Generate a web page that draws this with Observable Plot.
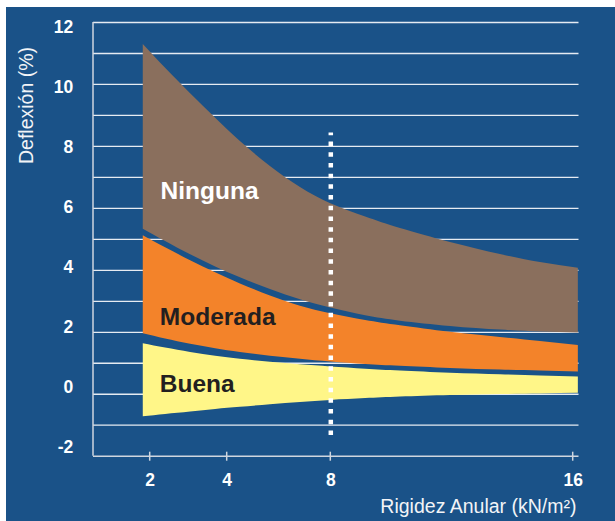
<!DOCTYPE html>
<html>
<head>
<meta charset="utf-8">
<script src="https://cdn.jsdelivr.net/npm/d3@7"></script>
<script src="https://cdn.jsdelivr.net/npm/@observablehq/plot@0.6"></script>
<style>
  html, body { margin: 0; padding: 0; background: #ffffff; }
  #wrap { position: relative; width: 615px; height: 521px; overflow: hidden; }
  #bg { position: absolute; left: 6px; top: 7px; width: 609px; height: 514px; background: #1a5288; }
  #wrap svg { position: absolute; left: 0; top: 0; }
</style>
</head>
<body>
<div id="wrap"><div id="bg"></div></div>
<script>
// ---- data ----
const rigidez        = [1.82, 2.40, 3.05, 3.70, 4.51, 5.67, 6.83, 8.00, 9.15, 10.30, 11.95, 13.60, 14.92, 16.17];
const ningunaTop     = [11.29, 10.52, 9.70, 8.91, 8.16, 7.35, 6.67, 6.15, 5.72, 5.35, 4.90, 4.51, 4.25, 4.07];
const ningunaBottom  = [5.33, 4.93, 4.50, 4.11, 3.76, 3.38, 3.05, 2.78, 2.53, 2.36, 2.19, 2.07, 2.01, 1.98];
const moderadaTop    = [5.12, 4.73, 4.31, 3.92, 3.56, 3.17, 2.84, 2.60, 2.38, 2.21, 2.00, 1.83, 1.70, 1.57];
const moderadaBottom = [1.95, 1.78, 1.61, 1.47, 1.35, 1.23, 1.13, 1.04, 0.96, 0.90, 0.83, 0.78, 0.75, 0.72];
const buenaTop       = [1.63, 1.49, 1.35, 1.23, 1.13, 1.03, 0.95, 0.88, 0.81, 0.75, 0.68, 0.63, 0.59, 0.56];
const buenaBottom    = [-0.73, -0.65, -0.57, -0.49, -0.42, -0.34, -0.27, -0.20, -0.14, -0.09, -0.04, -0.01, 0.01, 0.03];

const bandNames  = ["Ninguna", "Moderada", "Buena"];
const bandLabelX = [2.27, 2.25, 2.25];
const bandLabelY = [6.55, 2.49, 0.34];

const xTicks = [2, 4, 8, 16];
const yTicks = [-2, 0, 2, 4, 6, 8, 10, 12];
const gridLevels = [-1, 0, 1, 2, 3, 4, 5, 6, 7, 8, 9, 10, 11, 12];
const refX = [8];
const refSpan = [-1.33, 8.43];

const xTitle = "Rigidez Anular (kN/m²)";
const yTitle = "Deflexión (%)";

// ---- styles ----
const FONT = "'Liberation Sans', Arial, Helvetica, sans-serif";
const BROWN = "#8a6f5d";
const ORANGE = "#f3832a";
const YELLOW = "#fff688";
const DARK = "#231f20";
const GRID = "#e6ebf2";
const AXIS = "#cfd6df";
const bandText = ["#ffffff", DARK, DARK];

const rows = rigidez.map((x, i) => ({
  x, nt: ningunaTop[i], nb: ningunaBottom[i],
  mt: moderadaTop[i], mb: moderadaBottom[i],
  bt: buenaTop[i], bb: buenaBottom[i]
}));
const labels = bandNames.map((name, i) => ({name, x: bandLabelX[i], y: bandLabelY[i], c: bandText[i]}));

const W = 615, H = 521;
const mLeft = 93, mRight = 36.5, mTop = 22, mBottom = 65.3;

function axisLines(index, scales, values, dimensions) {
  const {height, marginLeft, marginTop, marginBottom} = dimensions;
  const yb = height - marginBottom;
  const g = d3.create("svg:g").attr("stroke", AXIS).attr("stroke-width", 1.5).attr("fill", "none");
  g.append("line").attr("x1", marginLeft).attr("x2", marginLeft).attr("y1", marginTop).attr("y2", yb);
  for (const t of xTicks) {
    const px = scales.x(t);
    g.append("line").attr("x1", px).attr("x2", px).attr("y1", yb - 4).attr("y2", yb + 5);
  }
  return g.node();
}

const main = Plot.plot({
  width: W, height: H,
  marginLeft: mLeft, marginRight: mRight, marginTop: mTop, marginBottom: mBottom,
  style: {background: "transparent", fontFamily: FONT, color: "#ffffff", overflow: "visible"},
  x: {type: "linear", domain: xTicks, range: [149.7, 226.7, 330.3, 572.7], axis: null},
  y: {domain: [-2, 12], axis: null},
  marks: [
    Plot.ruleY(gridLevels, {stroke: GRID, strokeWidth: 1.3}),
    Plot.ruleY([-2], {stroke: AXIS, strokeWidth: 1.5}),
    Plot.areaY(rows, {x: "x", y1: "nb", y2: "nt", fill: BROWN, curve: "natural"}),
    Plot.areaY(rows, {x: "x", y1: "mb", y2: "mt", fill: ORANGE, curve: "natural"}),
    Plot.areaY(rows, {x: "x", y1: "bb", y2: "bt", fill: YELLOW, curve: "natural"}),
    Plot.ruleX(refX, {y1: refSpan[0], y2: refSpan[1], stroke: "#ffffff", strokeWidth: 4.5, strokeDasharray: "4.5,6.2"}),
    Plot.text(labels, {x: "x", y: "y", text: "name", fill: "c", textAnchor: "start", lineAnchor: "middle",
      fontSize: 24.5, fontWeight: "bold", fontFamily: FONT}),
    axisLines,
    Plot.axisX(xTicks, {tickSize: 0, tickPadding: 17.6, fontSize: 17.5, fontWeight: "bold", fill: "#ffffff",
      label: null, fontFamily: FONT, tickFormat: d => String(d)}),
    Plot.text([xTitle], {frameAnchor: "bottom-right", dx: -2.5, dy: 50.3, textAnchor: "end", lineAnchor: "middle",
      fontSize: 19.5, fill: "#f2f4f7", fontFamily: FONT}),
    Plot.text([yTitle], {frameAnchor: "top-left", dx: -66.3, dy: 83, rotate: -90, textAnchor: "middle", lineAnchor: "middle",
      fontSize: 19.5, fill: "#f2f4f7", fontFamily: FONT})
  ]
});

// Y tick labels sit on their own, slightly compressed scale in the reference
const yLabels = Plot.plot({
  width: W, height: H,
  marginLeft: mLeft, marginRight: mRight, marginTop: mTop, marginBottom: mBottom,
  style: {background: "transparent", fontFamily: FONT, color: "#ffffff"},
  y: {domain: [-2, 12], range: [446.7, 26.7]},
  marks: [
    Plot.axisY(yTicks, {anchor: "left", tickSize: 0, tickPadding: 20.3, fontSize: 17.5, fontWeight: "bold",
      fill: "#ffffff", label: null, fontFamily: FONT, tickFormat: d => String(d)})
  ]
});

const wrap = document.getElementById("wrap");
wrap.appendChild(main);
wrap.appendChild(yLabels);
</script>
</body>
</html>
